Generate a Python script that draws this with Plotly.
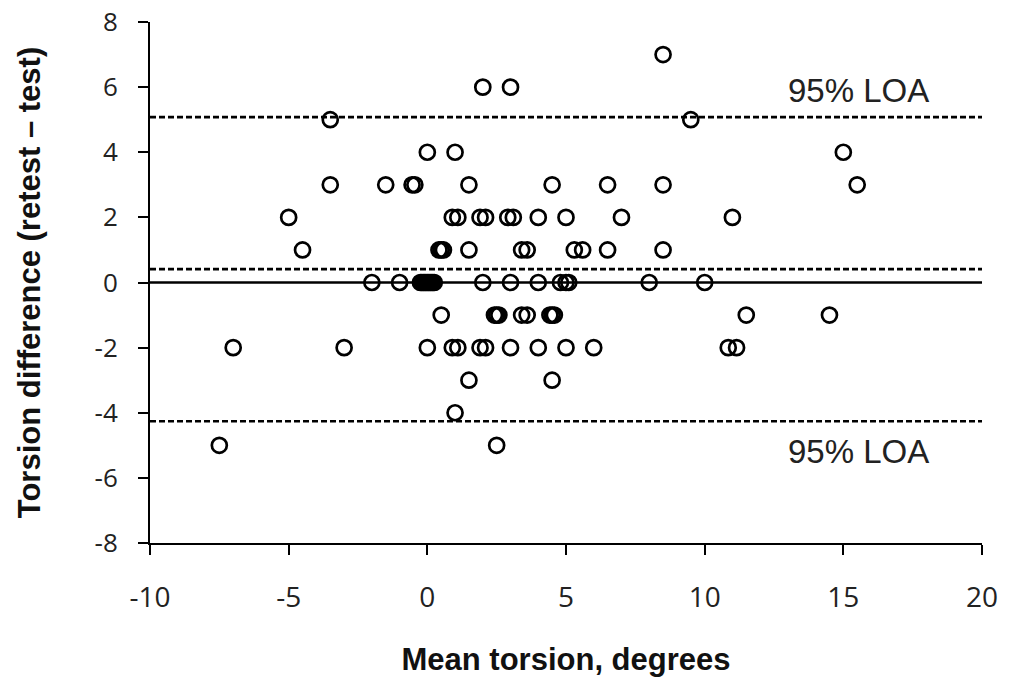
import plotly.graph_objects as go

# Data: mean torsion (x) and torsion difference retest - test (y)
mean_torsion = [
    8.5,
    2, 3,
    -3.5, 9.5,
    0, 1, 15,
    -3.5, -1.5, -0.55, -0.45, 1.5, 4.5, 6.5, 8.5, 15.5,
    -5, 0.9, 1.1, 1.9, 2.1, 2.9, 3.1, 4, 5, 7, 11,
    -4.5, 0.42, 0.5, 0.58, 1.5, 3.4, 3.6, 5.3, 5.6, 6.5, 8.5,
    -2, -1, -0.25, -0.2, -0.15, -0.1, -0.05, 0, 0.05, 0.1, 0.15, 0.2, 0.25,
    2, 3, 4, 4.8, 5, 5.1, 8, 10,
    0.5, 2.42, 2.5, 2.58, 3.4, 3.6, 4.42, 4.5, 4.58, 11.5, 14.5,
    -7, -3, 0, 0.9, 1.1, 1.9, 2.1, 3, 4, 5, 6, 10.85, 11.15,
    1.5, 4.5,
    1,
    -7.5, 2.5,
]
torsion_diff = (
    [7]
    + [6] * 2
    + [5] * 2
    + [4] * 3
    + [3] * 9
    + [2] * 11
    + [1] * 11
    + [0] * 21
    + [-1] * 11
    + [-2] * 13
    + [-3] * 2
    + [-4] * 1
    + [-5] * 2
)

mean_diff = 0.41
loa_upper = 5.08
loa_lower = -4.26
x_range = [-10, 20]
y_range = [-8, 8]
x_ticks = [-10, -5, 0, 5, 10, 15, 20]
x_ticktext = ["-10", "-5", "0", "5", "10", "15", "20"]
y_ticks = [-8, -6, -4, -2, 0, 2, 4, 6, 8]
y_ticktext = ["-8", "-6", "-4", "-2", "0", "2", "4", "6", "8"]
loa_label = "95% LOA"
loa_label_x = 15.55
loa_label_y_upper = 5.9
loa_label_y_lower = -5.2

fig = go.Figure()

# zero line (solid)
fig.add_trace(go.Scatter(x=x_range, y=[0, 0], mode="lines",
                         line=dict(color="black", width=2.5),
                         hoverinfo="skip", showlegend=False))
# mean & LOA lines (dashed)
for yv in [mean_diff, loa_upper, loa_lower]:
    fig.add_trace(go.Scatter(x=x_range, y=[yv, yv], mode="lines",
                             line=dict(color="black", width=2.6, dash="6px,3px"),
                             hoverinfo="skip", showlegend=False))

fig.add_trace(go.Scatter(
    x=mean_torsion, y=torsion_diff, mode="markers",
    marker=dict(symbol="circle-open", size=15, color="black",
                line=dict(width=2.7, color="black")),
    showlegend=False,
))

for yv in [loa_label_y_upper, loa_label_y_lower]:
    fig.add_annotation(x=loa_label_x, y=yv, text=loa_label, showarrow=False,
                       font=dict(family="Liberation Sans, Arial", size=33, color="#222"))

titlefont = dict(family="Liberation Sans, Arial", size=31, color="#111")

fig.update_xaxes(
    range=x_range, tickvals=x_ticks, ticktext=x_ticktext, showgrid=False, zeroline=False,
    showline=True, linecolor="black", linewidth=2, automargin=False,
    ticks="outside", ticklen=10, tickwidth=2, tickcolor="black",
    tickfont=dict(family="Open Sans", size=28, color="#222"),
    ticklabelstandoff=18, ticklabeloverflow="allow",
    title=dict(text="<b>Mean torsion, degrees</b>", font=titlefont, standoff=35),
)
fig.update_yaxes(
    range=y_range, tickvals=y_ticks, ticktext=y_ticktext, showgrid=False, zeroline=False,
    showline=True, linecolor="black", linewidth=2, automargin=False,
    ticks="outside", ticklen=10, tickwidth=2, tickcolor="black",
    tickfont=dict(family="Open Sans", size=26, color="#222"),
    ticklabelstandoff=15, ticklabeloverflow="allow",
    title=dict(text="<b>Torsion difference (retest – test)</b>", font=titlefont, standoff=45),
)

fig.update_layout(
    width=1010, height=679,
    margin=dict(l=142, r=36, t=14, b=144),
    paper_bgcolor="white", plot_bgcolor="white",
)

fig.write_html("out.html")
